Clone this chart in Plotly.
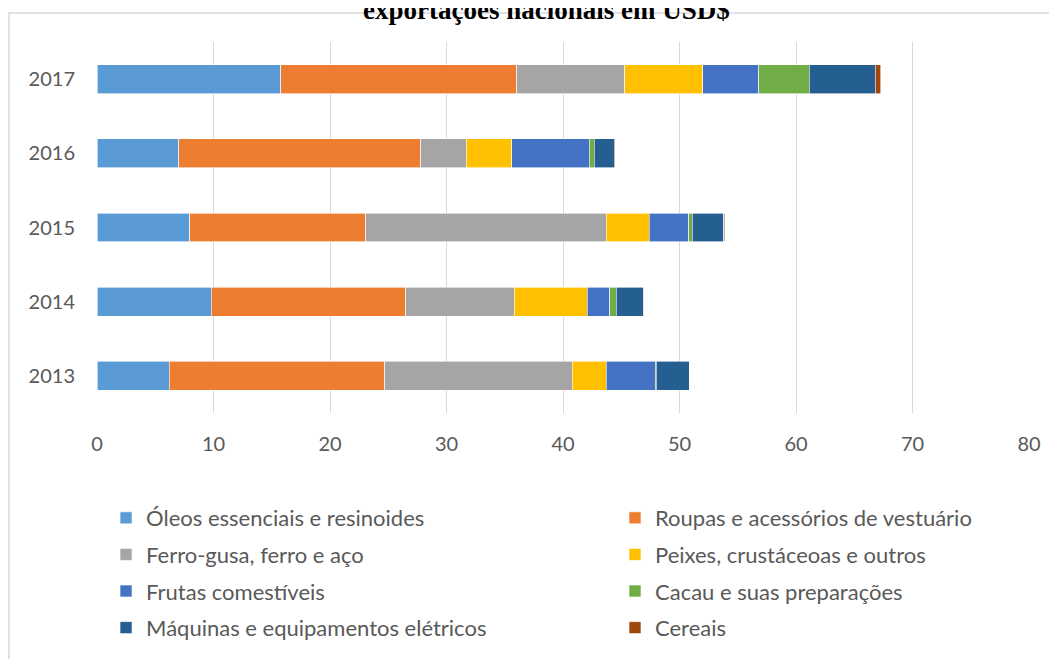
import plotly.graph_objects as go

anos = ['2013', '2014', '2015', '2016', '2017']

oleos = [6.19, 9.8, 7.96, 7.03, 15.78]
roupas = [18.51, 16.7, 15.11, 20.77, 20.26]
ferro = [16.1, 9.3, 20.63, 3.9, 9.26]
peixes = [2.9, 6.3, 3.7, 3.9, 6.7]
frutas = [4.2, 1.9, 3.4, 6.65, 4.8]
cacau = [0.12, 0.55, 0.3, 0.45, 4.33]
maquinas = [2.8, 2.35, 2.68, 1.7, 5.67]
cereais = [0.02, 0.05, 0.1, 0.1, 0.48]

series = [
    ('Óleos essenciais e resinoides', oleos, '#5B9BD5', 'legend'),
    ('Roupas e acessórios de vestuário', roupas, '#ED7D31', 'legend2'),
    ('Ferro-gusa, ferro e aço', ferro, '#A5A5A5', 'legend'),
    ('Peixes, crustáceoas e outros', peixes, '#FFC000', 'legend2'),
    ('Frutas comestíveis', frutas, '#4472C4', 'legend'),
    ('Cacau e suas preparações', cacau, '#70AD47', 'legend2'),
    ('Máquinas e equipamentos elétricos', maquinas, '#255E91', 'legend'),
    ('Cereais', cereais, '#9E480E', 'legend2'),
]

tick_font = dict(family='Lato, Calibri, sans-serif', size=20, color='#595959')
leg_font = dict(family='Lato, Calibri, sans-serif', size=22, color='#595959')

fig = go.Figure()
for nome, vals, cor, leg in series:
    fig.add_trace(go.Bar(y=anos, x=vals, name=nome, orientation='h',
                         marker=dict(color=cor, line=dict(color='white', width=0.6)),
                         legend=leg, legendgroup=nome))

leg_common = dict(orientation='v', traceorder='grouped', tracegroupgap=5,
                  font=leg_font, bgcolor='rgba(0,0,0,0)', yanchor='top',
                  itemwidth=30)

# a página tem 8px de margem no body, por isso a figura é 8px menor
fig.update_layout(
    width=1049, height=651,
    margin=dict(l=89, r=28, t=34, b=246, autoexpand=False),
    barmode='stack', bargap=0.61,
    plot_bgcolor='white', paper_bgcolor='white',
    font=tick_font,
    showlegend=True,
    legend=dict(x=0.0097, y=-0.2264, **leg_common),
    legend2=dict(x=0.5558, y=-0.2264, **leg_common),
    xaxis=dict(range=[0, 80], dtick=10, showgrid=True, gridcolor='#D9D9D9',
               gridwidth=1, zeroline=False, showline=False,
               ticklabelstandoff=17, tickfont=tick_font),
    yaxis=dict(showgrid=False, showline=False, zeroline=False,
               ticklabelstandoff=21, tickfont=tick_font),
)

# caixa do gráfico
fig.add_shape(type='rect', xref='paper', yref='paper',
              x0=-0.0944, x1=1.1, y0=-0.8, y1=1.0782,
              line=dict(color='#D9D9D9', width=1.5), layer='below')

fig.add_annotation(text='<b>exportações nacionais em USD$</b>',
                   xref='paper', yref='paper', x=0.4828, y=1.0866,
                   showarrow=False, xanchor='center', yanchor='middle',
                   font=dict(family='Liberation Serif, Times New Roman, serif',
                             size=27, color='black'))

fig.write_html('out.html')
